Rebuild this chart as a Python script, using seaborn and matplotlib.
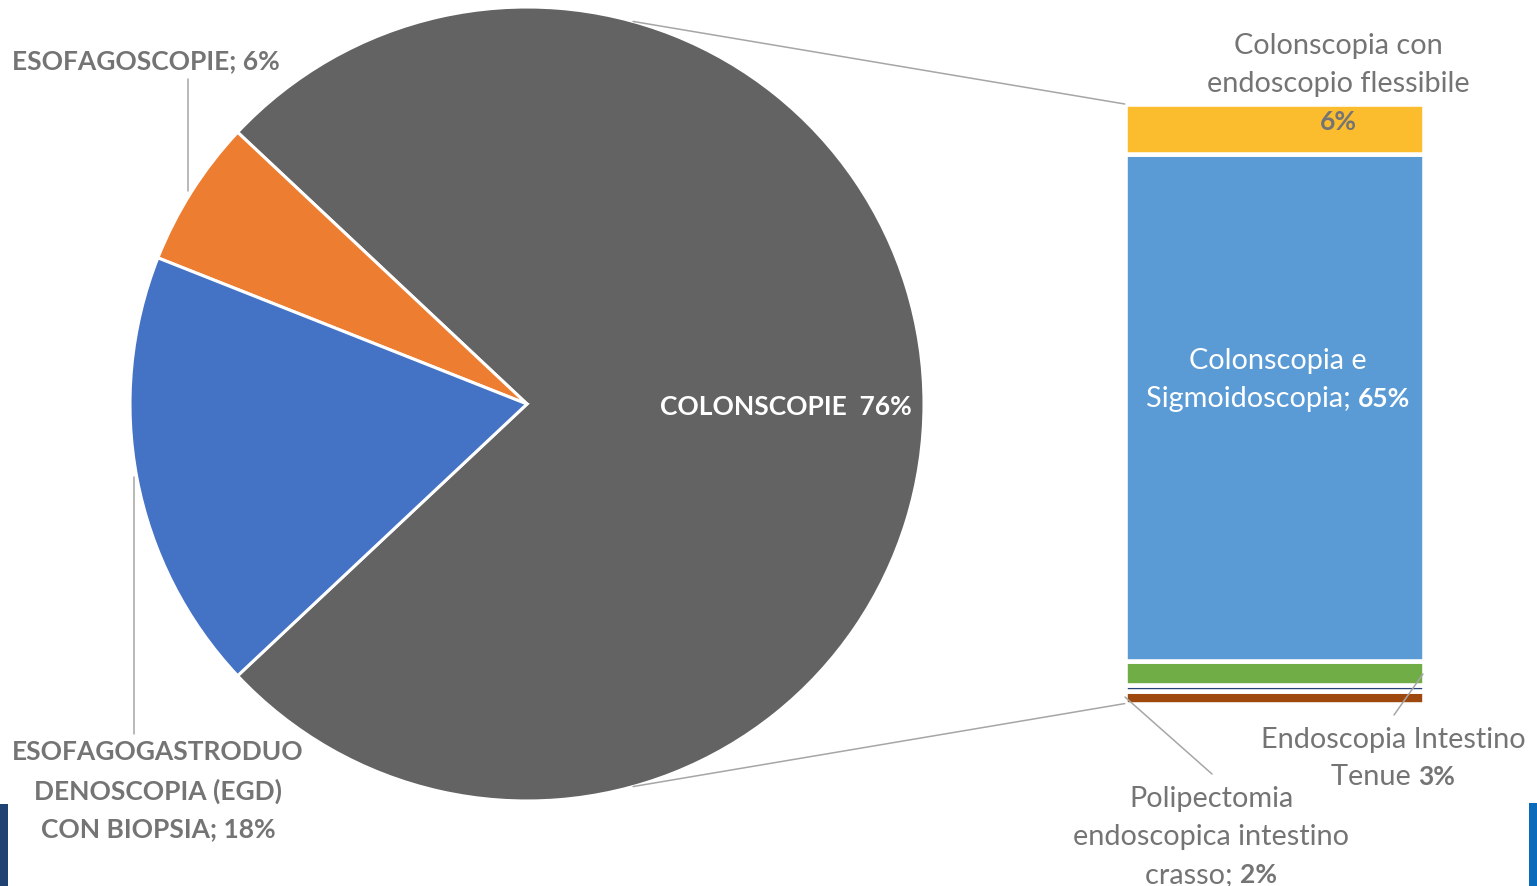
import numpy as np
import matplotlib
matplotlib.use("Agg")
import matplotlib.pyplot as plt
from matplotlib.patches import ConnectionPatch, Rectangle
import seaborn as sns

# ---- data ----
pie_labels = ["COLONSCOPIE", "ESOFAGOSCOPIE", "ESOFAGOGASTRODUODENOSCOPIA (EGD) CON BIOPSIA"]
pie_values = [76, 6, 18]
pie_colors = ["#636363", "#ED7D31", "#4472C4"]

bar_labels = ["Polipectomia endoscopica intestino crasso", "(altro)",
              "Endoscopia Intestino Tenue", "Colonscopia e Sigmoidoscopia",
              "Colonscopia con endoscopio flessibile"]
bar_values = [1.6, 0.8, 3.0, 64.3, 6.3]   # bottom -> top, sum = 76
bar_colors = ["#9E480E", "#264478", "#70AD47", "#5B9BD5", "#FBBC2E"]

sns.set_theme(style="white")
plt.rcParams['font.family'] = ['Lato', 'DejaVu Sans']

W, H = 1537, 887
fig = plt.figure(figsize=(W / 100, H / 100), dpi=100)
fig.patch.set_facecolor("white")

# full-figure pixel axes
ax = fig.add_axes([0, 0, 1, 1])
ax.set_facecolor("none")
cx, cy, r = 527, 405, 397
start = 180 * pie_values[0] / 100  # colonscopie centred on the right
ax.pie(pie_values, colors=pie_colors, startangle=start, counterclock=False,
       center=(cx, cy), radius=r,
       wedgeprops=dict(edgecolor="white", linewidth=2.2))
ax.set_xlim(0, W)
ax.set_ylim(H, 0)
ax.set_aspect("equal")
ax.axis("off")

# bar axes
bl, br, bt, bb = 1124.7, 1423.5, 105, 704.6
axb = fig.add_axes([bl / W, (H - bb) / H, (br - bl) / W, (bb - bt) / H])
axb.set_facecolor("none")
bottom = 0
for v, c in zip(bar_values, bar_colors):
    axb.bar(0, v, bottom=bottom, width=1, color=c, edgecolor="white",
            linewidth=3.3, clip_on=False)
    bottom += v
axb.set_xlim(-0.5, 0.5)
axb.set_ylim(0, sum(bar_values))
axb.axis("off")

# overlay axes for text and leaders
axt = fig.add_axes([0, 0, 1, 1])
axt.set_facecolor("none")
axt.set_xlim(0, W)
axt.set_ylim(H, 0)
axt.axis("off")

# connector lines pie -> bar
lc = "#A6A6A6"
a_top = np.deg2rad(74.5)
a_bot = np.deg2rad(-74.5)
for ang, yb in [(a_top, sum(bar_values)), (a_bot, 0)]:
    con = ConnectionPatch(xyA=(cx + r * np.cos(ang), cy - r * np.sin(ang)), coordsA=ax.transData,
                          xyB=(-0.5, yb), coordsB=axb.transData, color=lc, lw=1.1)
    fig.add_artist(con)

# leader lines
for (x0, y0, x1, y1) in [(188, 80, 188, 192), (134, 478, 134, 735),
                         (1423, 675, 1394, 716), (1125, 698, 1212, 775)]:
    axt.plot([x0, x1], [y0, y1], color=lc, lw=1.1)

gray = "#747474"
fsb = 19
fsn = 20.8

fig.canvas.draw()
rend = fig.canvas.get_renderer()


def mixed(xc, y, parts, color=gray):
    ts = []
    widths = []
    for s, wgt in parts:
        size = fsb if wgt == "bold" else fsn
        t = axt.text(0, y, s, fontsize=size, fontweight=wgt, color=color,
                     ha="left", va="center")
        bb_ = t.get_window_extent(renderer=rend)
        ts.append(t)
        widths.append(bb_.width)
    total = sum(widths)
    x = xc - total / 2
    for t, w in zip(ts, widths):
        t.set_x(x)
        x += w


# pie labels
mixed(146, 61, [("ESOFAGOSCOPIE; 6%", "bold")])
mixed(786, 407, [("COLONSCOPIE  76%", "bold")], color="white")
mixed(158, 752, [("ESOFAGOGASTRODUO", "bold")])
mixed(158, 791, [("DENOSCOPIA (EGD)", "bold")])
mixed(158, 829, [("CON BIOPSIA; 18%", "bold")])

# bar labels
mixed(1338, 46, [("Colonscopia con", "normal")])
mixed(1338, 84, [("endoscopio flessibile", "normal")])
mixed(1338, 122, [("6%", "bold")])
mixed(1278, 361, [("Colonscopia e", "normal")], color="white")
mixed(1278, 399, [("Sigmoidoscopia; ", "normal"), ("65%", "bold")], color="white")
mixed(1393, 740, [("Endoscopia Intestino", "normal")])
mixed(1393, 777, [("Tenue ", "normal"), ("3%", "bold")])
mixed(1211, 799, [("Polipectomia", "normal")])
mixed(1211, 837, [("endoscopica intestino", "normal")])
mixed(1211, 875, [("crasso; ", "normal"), ("2%", "bold")])

# slide background remnants at the bottom corners
fig.add_artist(Rectangle((0, 0), 8 / W, (H - 805) / H, transform=fig.transFigure,
                         color="#1F4272", lw=0))
fig.add_artist(Rectangle((1529 / W, 0), 8 / W, (H - 804) / H, transform=fig.transFigure,
                         color="#0A6BBA", lw=0))

fig.savefig("out.png", dpi=100)
